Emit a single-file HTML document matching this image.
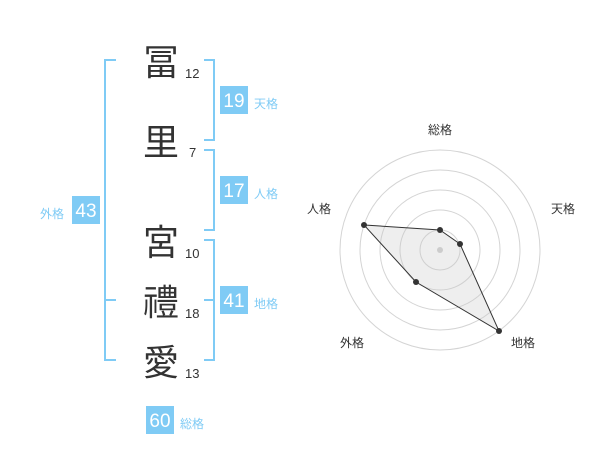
<!DOCTYPE html>
<html><head><meta charset="utf-8"><style>
body{margin:0;width:600px;height:470px;background:#fff;overflow:hidden;font-family:"Liberation Sans","Noto Sans CJK JP",sans-serif}
</style></head><body>
<svg width="600" height="470" xmlns="http://www.w3.org/2000/svg" font-family="Liberation Sans, Noto Sans CJK JP, sans-serif">
<g stroke="#7fcbf5" stroke-width="2" fill="none">
<path d="M116 60H105V360H116M105 300H116"/>
<path d="M204 60H214V140H204"/>
<path d="M204 150H214V230H204"/>
<path d="M204 240H214V360H204M214 300H204"/>
</g>
<g fill="#333" font-size="36" text-anchor="middle">
<text x="161" y="75">冨</text>
<text x="161" y="155">里</text>
<text x="161" y="255">宮</text>
<text x="161" y="315">禮</text>
<text x="161" y="375">愛</text>
</g>
<g fill="#333" font-size="13">
<text x="185" y="78">12</text>
<text x="189" y="157">7</text>
<text x="185" y="258">10</text>
<text x="185" y="318">18</text>
<text x="185" y="378">13</text>
</g>
<g fill="#7fcbf5">
<rect x="220" y="86" width="28" height="28"/>
<rect x="220" y="176" width="28" height="28"/>
<rect x="220" y="286" width="28" height="28"/>
<rect x="72" y="196" width="28" height="28"/>
<rect x="146" y="406" width="28" height="28"/>
</g>
<g fill="#fff" font-size="19" text-anchor="middle">
<text x="234" y="107">19</text>
<text x="234" y="197">17</text>
<text x="234" y="307">41</text>
<text x="86" y="217">43</text>
<text x="160" y="427">60</text>
</g>
<g fill="#7fcbf5" font-size="12">
<text x="254" y="108">天格</text>
<text x="254" y="198">人格</text>
<text x="254" y="308">地格</text>
<text x="40" y="218">外格</text>
<text x="180" y="428">総格</text>
</g>
<g stroke="#d4d4d4" fill="none">
<circle cx="440" cy="250" r="20"/><circle cx="440" cy="250" r="40"/><circle cx="440" cy="250" r="60"/><circle cx="440" cy="250" r="80"/><circle cx="440" cy="250" r="100"/>
</g>
<polygon points="440,230 460,244 499,331 416,282 364,225" fill="rgba(200,200,200,0.3)" stroke="#333" stroke-width="1"/>
<circle cx="440" cy="250" r="3" fill="#ccc"/>
<g fill="#333">
<circle cx="440" cy="230" r="3"/><circle cx="460" cy="244" r="3"/><circle cx="499" cy="331" r="3"/><circle cx="416" cy="282" r="3"/><circle cx="364" cy="225" r="3"/>
</g>
<g fill="#333" font-size="12" text-anchor="middle">
<text x="440" y="134">総格</text>
<text x="563" y="213">天格</text>
<text x="523" y="347">地格</text>
<text x="352" y="347">外格</text>
<text x="319" y="213">人格</text>
</g>
</svg>
</body></html>
